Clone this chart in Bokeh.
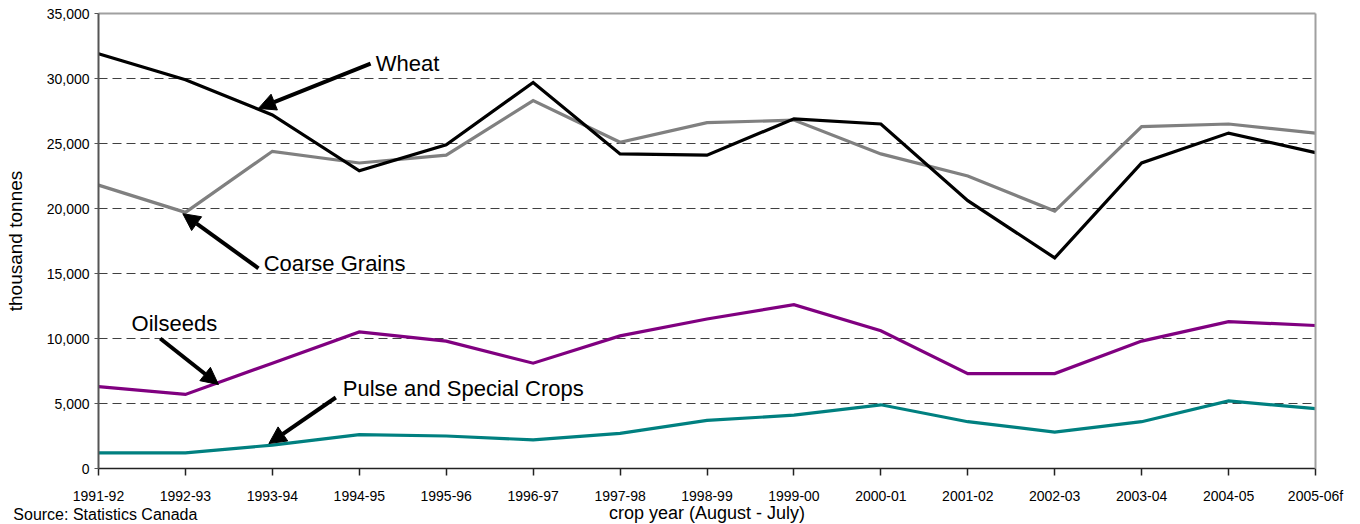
from bokeh.plotting import figure
from bokeh.models import (ColumnDataSource, FixedTicker, NumeralTickFormatter, Arrow,
                          NormalHead, Label, Range1d, LinearAxis)
from bokeh.embed import file_html
from bokeh.resources import INLINE

# ---------------- data ----------------
years = ["1991-92", "1992-93", "1993-94", "1994-95", "1995-96", "1996-97", "1997-98",
         "1998-99", "1999-00", "2000-01", "2001-02", "2002-03", "2003-04", "2004-05",
         "2005-06f"]
wheat = [31900, 29900, 27200, 22900, 24900, 29700, 24200, 24100, 26900, 26500,
         20600, 16200, 23500, 25800, 24300]
coarse_grains = [21800, 19700, 24400, 23500, 24100, 28300, 25100, 26600, 26800, 24200,
                 22500, 19800, 26300, 26500, 25800]
oilseeds = [6300, 5700, 8100, 10500, 9800, 8100, 10200, 11500, 12600, 10600,
            7300, 7300, 9800, 11300, 11000]
pulse_special = [1200, 1200, 1800, 2600, 2500, 2200, 2700, 3700, 4100, 4900,
                 3600, 2800, 3600, 5200, 4600]
y_ticks = [0, 5000, 10000, 15000, 20000, 25000, 30000, 35000]

FONT = "Liberation Sans"

# ---------------- layout geometry (pixels) ----------------
W, H = 1360, 524
PLOT_L, PLOT_R, PLOT_T, PLOT_B = 98, 1315, 13, 468
n = len(years)
YMAX = y_ticks[-1]
xs_per_px = (n - 1) / (PLOT_R - PLOT_L)
ys_per_px = YMAX / (PLOT_B - PLOT_T)
x_range = Range1d(-PLOT_L * xs_per_px, (n - 1) + (W - PLOT_R) * xs_per_px)
y_range = Range1d(-(H - PLOT_B) * ys_per_px, YMAX + PLOT_T * ys_per_px)

idx = list(range(n))
src = ColumnDataSource(dict(x=idx, wheat=wheat, coarse=coarse_grains,
                            oil=oilseeds, pulse=pulse_special))

p = figure(width=W, height=H, output_backend="svg", toolbar_location=None,
           x_range=x_range, y_range=y_range,
           min_border_left=0, min_border_right=0, min_border_top=0, min_border_bottom=0)
p.background_fill_color = "white"
p.border_fill_color = "white"
p.outline_line_color = None

# bottom axis, fixed at y = 0
xa = p.xaxis[0]
xa.fixed_location = 0
xa.bounds = (0, n - 1)
xa.ticker = FixedTicker(ticks=idx)
xa.major_label_overrides = {i: y for i, y in enumerate(years)}
xa.major_label_text_font = FONT
xa.major_label_text_font_size = "14px"
xa.major_label_text_color = "black"
xa.major_label_standoff = 12
xa.major_tick_out = 7
xa.major_tick_in = 0
xa.minor_tick_line_color = None
xa.axis_line_color = "#222222"
xa.axis_line_width = 1.5
xa.major_tick_line_color = "#222222"
xa.major_tick_line_width = 1.5
xa.axis_label = "crop year (August - July)"
xa.axis_label_text_font = FONT
xa.axis_label_text_font_size = "18px"
xa.axis_label_text_font_style = "normal"
xa.axis_label_text_color = "black"
xa.axis_label_standoff = -4

# left axis, fixed at x = 0
ya = p.yaxis[0]
ya.fixed_location = 0
ya.bounds = (0, YMAX)
ya.ticker = FixedTicker(ticks=y_ticks)
ya.formatter = NumeralTickFormatter(format="0,0")
ya.major_label_text_font = FONT
ya.major_label_text_font_size = "14px"
ya.major_label_text_color = "black"
ya.major_label_standoff = 5
ya.major_tick_out = 4
ya.major_tick_in = 0
ya.minor_tick_line_color = None
ya.axis_line_color = "#555555"
ya.axis_line_width = 2
ya.major_tick_line_color = "#555555"
ya.axis_label = "thousand tonnes"
ya.axis_label_text_font = FONT
ya.axis_label_text_font_size = "19px"
ya.axis_label_text_font_style = "normal"
ya.axis_label_text_color = "black"
ya.axis_label_standoff = 18

# plot-area border on top and right
top_ax = LinearAxis(fixed_location=YMAX, bounds=(0, n - 1), ticker=FixedTicker(ticks=[]),
                    axis_line_color="#a0a0a0", axis_line_width=2,
                    major_tick_line_color=None, minor_tick_line_color=None)
p.add_layout(top_ax, "above")
right_ax = LinearAxis(fixed_location=n - 1, bounds=(0, YMAX), ticker=FixedTicker(ticks=[]),
                      axis_line_color="#a0a0a0", axis_line_width=2,
                      major_tick_line_color=None, minor_tick_line_color=None)
p.add_layout(right_ax, "right")

# grid lines
p.xgrid.grid_line_color = None
yg = p.ygrid[0]
yg.ticker = FixedTicker(ticks=y_ticks[1:-1])
yg.grid_line_color = "#404040"
yg.grid_line_dash = "9 5"
yg.grid_line_width = 1
yg.cross_bounds = (0, n - 1)

# series
p.line("x", "coarse", source=src, line_color="#808080", line_width=3.2, line_join="miter")
p.line("x", "wheat", source=src, line_color="black", line_width=3.2, line_join="miter")
p.line("x", "oil", source=src, line_color="#800080", line_width=3.2, line_join="miter")
p.line("x", "pulse", source=src, line_color="#008080", line_width=3.2, line_join="miter")

# annotations (arrows + labels)
def arrow(xs, ys, xe, ye):
    p.add_layout(Arrow(end=NormalHead(size=17, fill_color="black", line_color="black"),
                       x_start=xs, y_start=ys, x_end=xe, y_end=ye,
                       line_color="black", line_width=4))

def lab(x, y, txt, size="22px", baseline="middle", align="left"):
    p.add_layout(Label(x=x, y=y, text=txt, text_font=FONT, text_font_size=size,
                       text_baseline=baseline, text_align=align, text_color="black"))

arrow(3.13, 31150, 1.84, 27700)
lab(3.19, 31150, "Wheat")
arrow(1.84, 15400, 0.97, 19600)
lab(1.90, 15770, "Coarse Grains")
arrow(0.71, 10000, 1.38, 6460)
lab(0.38, 11150, "Oilseeds")
arrow(2.73, 5460, 1.96, 1920)
lab(2.81, 6150, "Pulse and Special Crops")

# source note at the bottom left
lab(-0.98, -2850, "Source: Statistics Canada", size="16px", baseline="top")

open("out.html", "w").write(file_html(p, INLINE))
